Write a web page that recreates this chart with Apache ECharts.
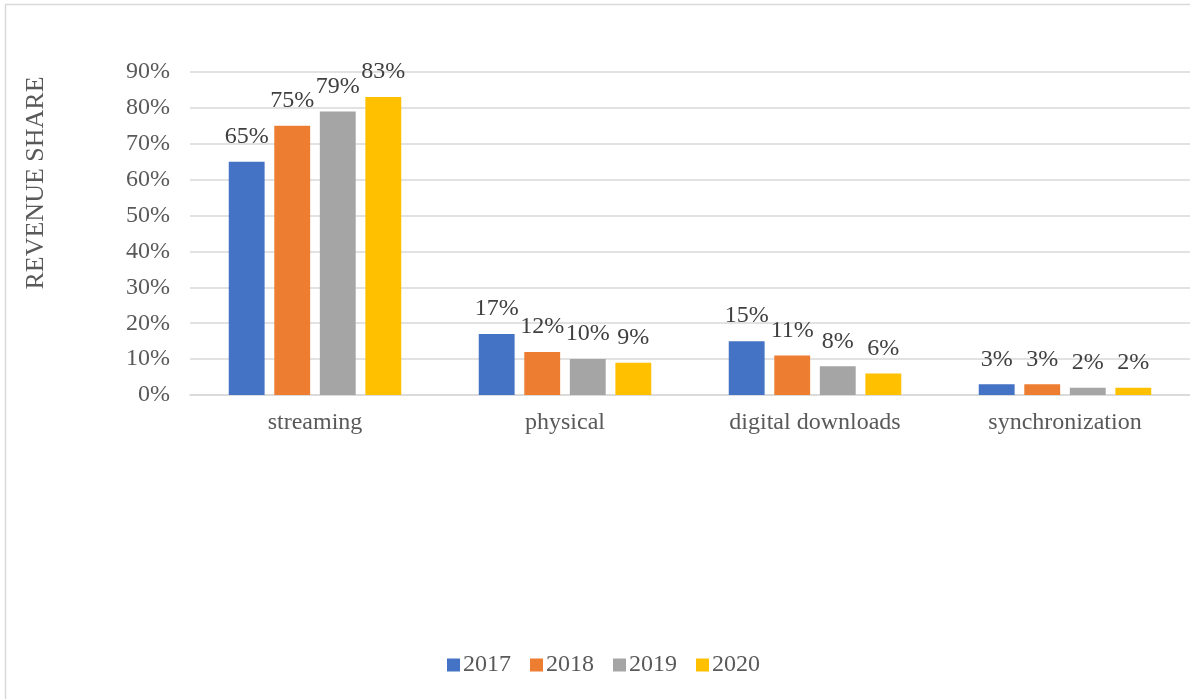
<!DOCTYPE html>
<html><head><meta charset="utf-8">
<script src="https://cdn.jsdelivr.net/npm/echarts@6/dist/echarts.min.js"></script>
<style>html,body{margin:0;padding:0;background:#fff}#c{width:1190px;height:699px}</style>
</head><body><div id="c"></div>
<script>
const categories = ['streaming', 'physical', 'digital downloads', 'synchronization'];
const years = ['2017', '2018', '2019', '2020'];
const s2017 = [65, 17, 15, 3];
const s2018 = [75, 12, 11, 3];
const s2019 = [79, 10, 8, 2];
const s2020 = [83, 9, 6, 2];
const colors = ['#4472C4', '#ED7D31', '#A5A5A5', '#FFC000'];
const seriesData = [s2017, s2018, s2019, s2020];
const font = '"Liberation Serif", "Times New Roman", serif';

const chart = echarts.init(document.getElementById('c'), null, {renderer: 'canvas'});
chart.setOption({
  animation: false,
  textStyle: {fontFamily: font},
  grid: {left: 190, top: 72, width: 1006, bottom: 304, containLabel: false},
  legend: {
    top: 648, left: 442, itemWidth: 13, itemHeight: 13, itemGap: 19,
    icon: 'rect',
    textStyle: {fontFamily: font, fontSize: 24, color: '#595959', padding: [0, 0, 0, -2]},
    data: years
  },
  xAxis: {
    type: 'category', data: categories,
    axisLine: {lineStyle: {color: '#d9d9d9', width: 1.5}},
    axisTick: {show: false},
    axisLabel: {fontFamily: font, fontSize: 24, color: '#595959', margin: 16}
  },
  yAxis: {
    type: 'value', min: 0, max: 90, interval: 10,
    axisLine: {show: false}, axisTick: {show: false},
    splitLine: {lineStyle: {color: '#d9d9d9', width: 1.5}},
    axisLabel: {fontFamily: font, fontSize: 24, color: '#595959', margin: 20, formatter: '{value}%'}
  },
  graphic: [
    {type: 'rect', shape: {x: 5.5, y: 4.5, width: 1200, height: 720}, style: {fill: 'none', stroke: '#d9d9d9', lineWidth: 1.5}, silent: true},
    {type: 'text', x: 36, y: 183, rotation: Math.PI / 2,
     style: {text: 'REVENUE SHARE', fontFamily: font, fontSize: 26, fill: '#595959', align: 'center', verticalAlign: 'middle'}}
  ],
  series: years.map((y, i) => ({
    name: y, type: 'bar', data: seriesData[i],
    barGap: '27%', barCategoryGap: '31%',
    itemStyle: {color: colors[i]},
    label: {show: true, position: 'top', distance: 13, formatter: '{c}%', fontFamily: font, fontSize: 24, color: '#404040'}
  }))
});
</script></body></html>
